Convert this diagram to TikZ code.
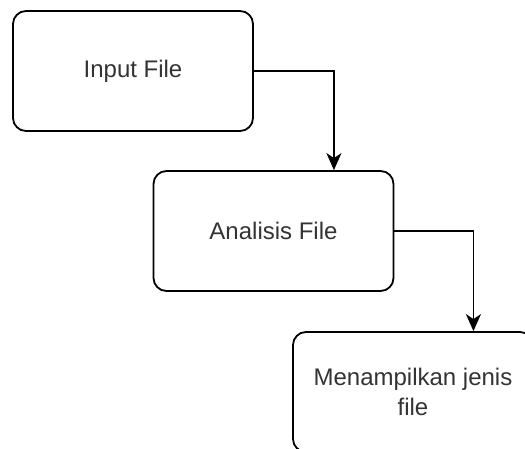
\documentclass[tikz,border=0pt]{standalone}
\usepackage{fontspec}
\setmainfont{Liberation Sans}
\usetikzlibrary{arrows.meta,calc}
\definecolor{textgray}{HTML}{333333}
\tikzset{
  flowbox/.style={draw=black, line width=0.9pt, rounded corners=6.5pt,
    minimum width=120pt, minimum height=60pt, align=center,
    font=\fontsize{12pt}{15pt}\selectfont, text=textgray, fill=white},
  flowarrow/.style={draw=black, line width=0.9pt,
    -{Stealth[length=8.5pt,width=7.5pt,inset=2.5pt]}}
}
\begin{document}
\begin{tikzpicture}[x=0.5pt,y=-0.5pt]
  \useasboundingbox (0,0) rectangle (525,449);
  \clip (0,0) rectangle (525,449);
  \fill[white] (0,0) rectangle (525,449);

  \node[flowbox] (input) at (133,71) {Input File};
  \node[flowbox] (analisis) at (273.5,231) {Analisis File};
  \node[flowbox] (tampil) at (413,392) {Menampilkan jenis\\file};

  \coordinate (inA) at ($(analisis.north west)!0.75!(analisis.north east)$);
  \coordinate (inT) at ($(tampil.north west)!0.75!(tampil.north east)$);

  \draw[flowarrow] (input.east) -| (inA);
  \draw[flowarrow] (analisis.east) -| (inT);
\end{tikzpicture}
\end{document}
